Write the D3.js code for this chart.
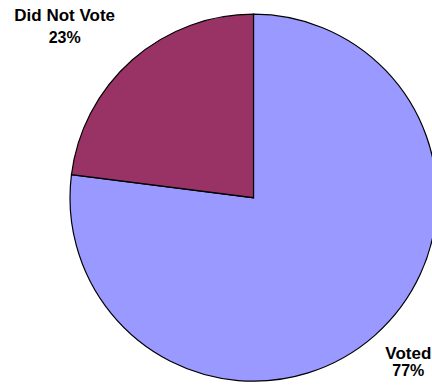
<!DOCTYPE html>
<html>
<head>
<meta charset="utf-8">
<script src="https://cdn.jsdelivr.net/npm/d3@7"></script>
<style>
html,body{margin:0;padding:0;background:#fff;}
svg{display:block;}
text{font-family:"Liberation Sans",Arial,sans-serif;font-weight:bold;fill:#000;}
</style>
</head>
<body>
<svg id="chart" width="432" height="388"></svg>
<script>
const categories = ["Voted", "Did Not Vote"];
const values = [77, 23];
const colors = ["#9999FF", "#993366"];

const W = 432, H = 388;
const cx = 253.5, cy = 197.7, r = 183.5;

const svg = d3.select("#chart");
const g = svg.append("g").attr("transform", `translate(${cx},${cy})`);

const pie = d3.pie().sort(null).value(d => d.v);
const data = pie(categories.map((c, i) => ({c, v: values[i], col: colors[i]})));
const arc = d3.arc().innerRadius(0).outerRadius(r);

g.selectAll("path").data(data).enter().append("path")
  .attr("d", arc)
  .attr("fill", d => d.data.col)
  .attr("stroke", "#000")
  .attr("stroke-width", 1.2)
  .attr("stroke-linejoin", "miter");

// labels: placed outside along the mid-angle, with small layout nudges
const labelArc = d3.arc().innerRadius(225).outerRadius(225);
const nudge = {
  "Voted":        {dx: 6,   line1: -7.2, line2: 9.5},
  "Did Not Vote": {dx: -40, line1: -8.2, line2: 13.8}
};
const total = d3.sum(values);
const lab = g.selectAll("g.lab").data(data).enter().append("g")
  .attr("class", "lab")
  .attr("transform", d => {
    const [x, y] = labelArc.centroid(d);
    return `translate(${x + nudge[d.data.c].dx},${y})`;
  });
lab.append("text").attr("text-anchor", "middle").attr("font-size", 17)
  .attr("y", d => nudge[d.data.c].line1).text(d => d.data.c);
lab.append("text").attr("text-anchor", "middle").attr("font-size", 16)
  .attr("y", d => nudge[d.data.c].line2).text(d => Math.round(d.data.v / total * 100) + "%");
</script>
</body>
</html>
